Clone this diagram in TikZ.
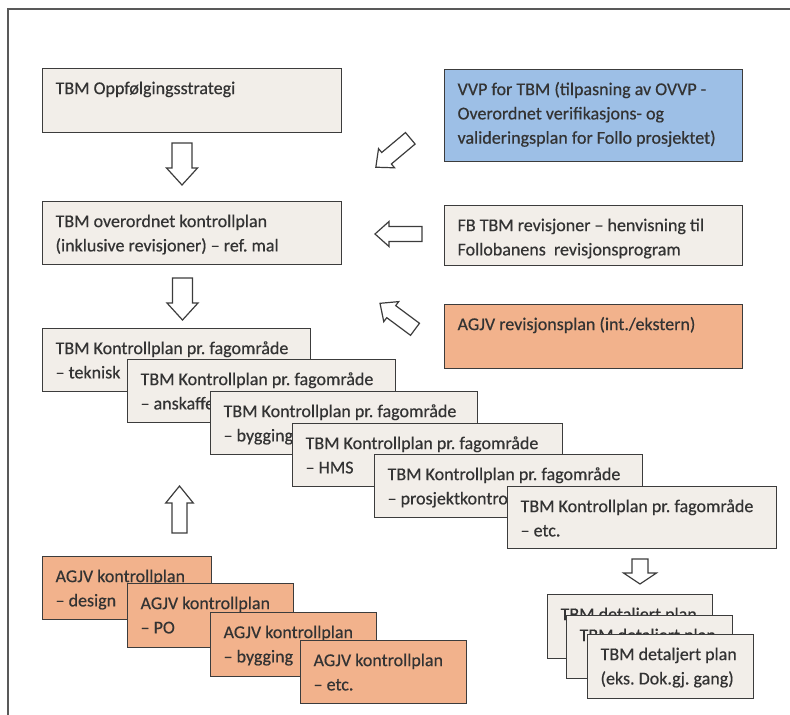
\documentclass[tikz,border=0pt]{standalone}
\usepackage{fontspec}
\setmainfont[FakeBold=0.5]{Carlito}
\definecolor{beige}{HTML}{F2EEE9}
\definecolor{lblue}{HTML}{9DBFE6}
\definecolor{lorange}{HTML}{F2B28C}
\definecolor{edge}{HTML}{3C3C3C}
\definecolor{txt}{HTML}{333333}
\newcommand{\bt}[3]{\parbox[c][#2][t]{#1}{\raggedright\frenchspacing\rule{0pt}{25.5pt}#3}}
\begin{document}
\frenchspacing
\begin{tikzpicture}[x=1pt,y=1pt,
  bx/.style={draw=edge, line width=1.2pt, anchor=north west, inner xsep=13pt, inner ysep=0pt,
    text=txt, font=\fontsize{18pt}{24.3pt}\selectfont},
  tan/.style={bx, fill=beige},
  blu/.style={bx, fill=lblue},
  ora/.style={bx, fill=lorange},
  blockarr/.style={draw=edge, fill=white, line width=1.2pt, line join=miter},
  frameline/.style={draw=edge!85, line width=1.3pt}]
\useasboundingbox (0,0) rectangle (790,-715);
\draw[frameline] (8,-715) -- (8,-9) -- (790,-9);

% top section
\node[tan] (strat) at (42,-68) {\bt{273pt}{64pt}{TBM Oppfølgingsstrategi}};
\node[tan] (overord) at (42,-201) {\bt{273pt}{63pt}{TBM overordnet kontrollplan\\(inklusive revisjoner) – ref. mal}};
\node[blu] (vvp) at (444,-69) {\bt{272pt}{92pt}{VVP for TBM (tilpasning av OVVP -\\Overordnet verifikasjons- og\\valideringsplan for Follo prosjektet)}};
\node[tan] (fbrev) at (444,-205) {\bt{272pt}{60pt}{FB TBM revisjoner – henvisning til\\Follobanens\ \ revisjonsprogram}};
\node[ora] (agjvrev) at (444,-304) {\bt{272pt}{64pt}{AGJV revisjonsplan (int./ekstern)}};

% TBM kontrollplan stack
\node[tan] (k1) at (42,-328) {\bt{242pt}{63pt}{TBM Kontrollplan pr. fagområde\\– teknisk}};
\node[tan] (k2) at (127,-359) {\bt{242pt}{63pt}{TBM Kontrollplan pr. fagområde\\– anskaffelse}};
\node[tan] (k3) at (210,-391) {\bt{241pt}{63pt}{TBM Kontrollplan pr. fagområde\\– bygging}};
\node[tan] (k4) at (292,-423) {\bt{244pt}{63pt}{TBM Kontrollplan pr. fagområde\\– HMS}};
\node[tan] (k5) at (374,-454) {\bt{242pt}{63pt}{TBM Kontrollplan pr. fagområde\\– prosjektkontroll}};
\node[tan] (k6) at (507,-486) {\bt{243pt}{62pt}{TBM Kontrollplan pr. fagområde\\– etc.}};

% AGJV kontrollplan stack
\node[ora] (a1) at (42,-556) {\bt{143pt}{63pt}{AGJV kontrollplan\\– design}};
\node[ora] (a2) at (127,-583) {\bt{140pt}{64pt}{AGJV kontrollplan\\– PO}};
\node[ora] (a3) at (210,-612) {\bt{140pt}{64pt}{AGJV kontrollplan\\– bygging}};
\node[ora] (a4) at (300,-640) {\bt{140pt}{63pt}{AGJV kontrollplan\\– etc.}};

% detaljert plan stack
\node[tan] (d1) at (547,-594) {\bt{139pt}{64pt}{TBM detaljert plan}};
\node[tan] (d2) at (566,-615) {\bt{140pt}{63pt}{TBM detaljert plan}};
\node[tan] (d3) at (587,-634) {\bt{140pt}{64pt}{TBM detaljert plan\\(eks. Dok.gj. gang)}};

% block arrows: tail coordinates
\coordinate (ad1) at (182,-143);
\coordinate (ad2) at (182.5,-278);
\coordinate (adg1) at (410.3,-138.3);
\coordinate (alf) at (422,-234);
\coordinate (adg2) at (415,-329.3);
\coordinate (aup) at (179.5,-533);
\coordinate (asm) at (640,-559);

\draw[blockarr, shift={(ad1)}, rotate=-90] (0,-10) -- (25,-10) -- (25,-15.5) -- (42,0) -- (25,15.5) -- (25,10) -- (0,10) -- cycle;
\draw[blockarr, shift={(ad2)}, rotate=-90] (0,-10) -- (25,-10) -- (25,-15.5) -- (42,0) -- (25,15.5) -- (25,10) -- (0,10) -- cycle;
\draw[blockarr, shift={(adg1)}, rotate=220] (0,-7.5) -- (31,-7.5) -- (31,-12.5) -- (45,0) -- (31,12.5) -- (31,7.5) -- (0,7.5) -- cycle;
\draw[blockarr, shift={(alf)}, rotate=180] (0,-7.5) -- (33,-7.5) -- (33,-12.5) -- (47,0) -- (33,12.5) -- (33,7.5) -- (0,7.5) -- cycle;
\draw[blockarr, shift={(adg2)}, rotate=143.4] (0,-7.5) -- (29.6,-7.5) -- (29.6,-12.5) -- (43.6,0) -- (29.6,12.5) -- (29.6,7.5) -- (0,7.5) -- cycle;
\draw[blockarr, shift={(aup)}, rotate=90] (0,-7.5) -- (30,-7.5) -- (30,-13.8) -- (47,0) -- (30,13.8) -- (30,7.5) -- (0,7.5) -- cycle;
\draw[blockarr, shift={(asm)}, rotate=-90] (0,-8) -- (14,-8) -- (14,-16.5) -- (25,0) -- (14,16.5) -- (14,8) -- (0,8) -- cycle;
\end{tikzpicture}
\end{document}
